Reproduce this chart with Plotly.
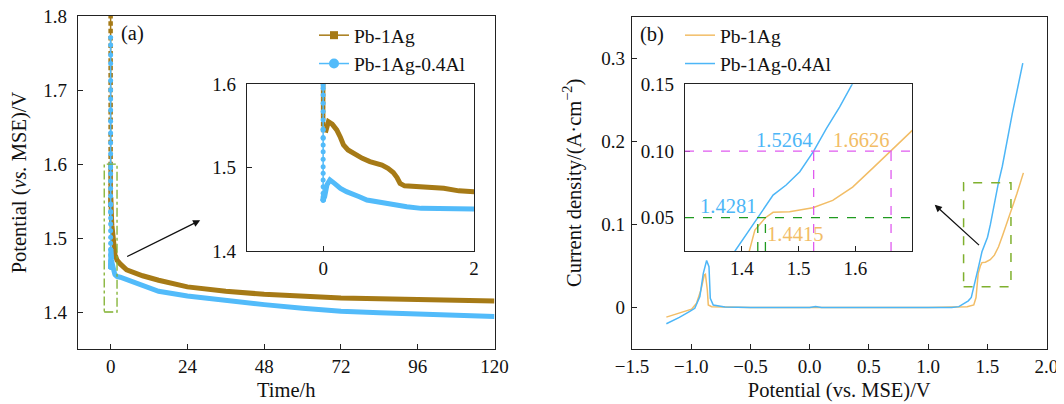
import plotly.graph_objects as go

# ---------------- data: panel (a) chronopotentiometry ----------------
# initial (t = 0) spike
spike_t_ag = [0.0] * 32
spike_v_ag = [1.85, 1.80, 1.79, 1.78, 1.77, 1.76, 1.75, 1.74, 1.73, 1.72, 1.71, 1.70,
              1.69, 1.68, 1.67, 1.66, 1.65, 1.64, 1.63, 1.62, 1.61, 1.60, 1.595, 1.59,
              1.585, 1.58, 1.575, 1.57, 1.565, 1.56, 1.552, 1.545]
spike_t_al = [0.0] * 37
spike_v_al = [1.771, 1.761, 1.7475, 1.736, 1.713, 1.700, 1.688, 1.673, 1.658, 1.642,
              1.629, 1.614, 1.599, 1.595, 1.587, 1.577, 1.567, 1.557, 1.546, 1.545,
              1.536, 1.535, 1.527, 1.519, 1.510, 1.501, 1.493, 1.485, 1.477, 1.469,
              1.465, 1.463, 1.461, 1.461, 1.461, 1.461, 1.461]

# decay after the spike
time_ag = [0.03, 0.07, 0.12, 0.18, 0.23, 0.27, 0.33, 0.40, 0.45, 0.52, 0.62, 0.70, 0.78,
           0.86, 0.93, 0.98, 1.02, 1.08, 1.24, 1.4, 1.6, 1.8, 2.0,
           3, 5, 10, 15, 24, 36, 48, 60, 72, 84, 96, 108, 120]
pot_ag = [1.542, 1.555, 1.552, 1.545, 1.536, 1.527, 1.521, 1.517, 1.515, 1.511, 1.507, 1.505, 1.503,
          1.499, 1.494, 1.488, 1.481, 1.478, 1.477, 1.476, 1.475, 1.472, 1.470,
          1.465, 1.457, 1.449, 1.443, 1.434, 1.428, 1.424, 1.421, 1.419, 1.418, 1.417, 1.416, 1.415]
time_al = [0.0, 0.02, 0.05, 0.09, 0.15, 0.23, 0.31, 0.40, 0.48, 0.58, 0.70, 0.85, 1.0, 1.11,
           1.3, 1.47, 1.7, 2.0,
           3, 5, 10, 15, 24, 36, 48, 60, 72, 84, 96, 108, 120]
pot_al = [1.461, 1.465, 1.479, 1.485, 1.481, 1.475, 1.471, 1.467, 1.465, 1.461, 1.459, 1.456,
          1.454, 1.453, 1.451, 1.450, 1.449, 1.448,
          1.447, 1.444, 1.436, 1.428, 1.4216, 1.415, 1.410, 1.405, 1.401, 1.399, 1.397, 1.395, 1.394]

# ---------------- data: panel (b) polarisation curves ----------------
e_ag = [-1.21, -1.10, -0.997, -0.955, -0.918, -0.89, -0.88, -0.864, -0.856, -0.828, -0.70,
        -0.5, 0.0, 0.5, 1.0, 1.33, 1.386, 1.405, 1.413, 1.423, 1.4415, 1.455, 1.484,
        1.525, 1.56, 1.595, 1.63, 1.6626, 1.70, 1.75, 1.805]
j_ag = [-0.0116, -0.007, -0.002, 0.005, 0.021, 0.039, 0.040, 0.021, 0.003, 0.001, 0.0003,
        0.0, 0.0, 0.0, 0.0, 0.001, 0.003, 0.012, 0.025, 0.0407, 0.05, 0.054, 0.0545,
        0.0575, 0.063, 0.073, 0.087, 0.10, 0.1155, 0.137, 0.162]
e_al = [-1.21, -1.10, -1.012, -0.97, -0.927, -0.898, -0.87, -0.85, -0.839, -0.814, -0.715,
        -0.5, 0.0, 0.05, 0.1, 0.5, 1.0, 1.2, 1.26, 1.30, 1.34, 1.365, 1.388, 1.4281, 1.455,
        1.478, 1.502, 1.5264, 1.549, 1.572, 1.594, 1.627, 1.712, 1.80]
j_al = [-0.0196, -0.012, -0.0048, -0.001, 0.013, 0.041, 0.0566, 0.049, 0.011, 0.003, 0.0005,
        0.0, 0.0, 0.001, 0.0, 0.0, 0.0, 0.0, 0.001, 0.004, 0.008, 0.012, 0.025, 0.05, 0.067,
        0.0745, 0.0845, 0.10, 0.117, 0.133, 0.15, 0.17, 0.234, 0.294]

# marked potentials at 0.05 and 0.10 A/cm2
j_marks = [0.05, 0.10]
e_marks_ag = [1.4415, 1.6626]
e_marks_al = [1.4281, 1.5264]

names = ["Pb-1Ag", "Pb-1Ag-0.4Al"]

# ---------------- styles ----------------
BROWN = "#A67A16"
BLUE_A = "#52BBFA"
ORANGE = "#F2BD66"
BLUE_B = "#4DB6F7"
GREEN_BOX = "#7FB02E"
MAGENTA = "#E05BEF"
GREEN_D = "#1F9A1F"
FONT = "Liberation Serif"
FS = 19     # tick labels
FT = 20.5   # other text
FL = 19.5   # legend text
OFF = 8     # page body margin
W, H = 1064 - OFF, 404 - OFF


def px_x(p):
    return (p - OFF) / W


def px_y(p):
    return 1 - (p - OFF) / H


fig = go.Figure()

# panel (a) main + inset
for xa, ya in (("x", "y"), ("x2", "y2")):
    fig.add_trace(go.Scatter(x=time_ag, y=pot_ag, mode="lines", line=dict(color=BROWN, width=5),
                             xaxis=xa, yaxis=ya, showlegend=False, hoverinfo="skip"))
    fig.add_trace(go.Scatter(x=spike_t_ag, y=spike_v_ag, mode="lines+markers",
                             line=dict(color=BROWN, width=1.5),
                             marker=dict(symbol="square", size=4.5, color=BROWN),
                             xaxis=xa, yaxis=ya, showlegend=False, hoverinfo="skip"))
    fig.add_trace(go.Scatter(x=time_al, y=pot_al, mode="lines", line=dict(color=BLUE_A, width=5),
                             xaxis=xa, yaxis=ya, showlegend=False, hoverinfo="skip"))
    fig.add_trace(go.Scatter(x=spike_t_al, y=spike_v_al, mode="lines+markers",
                             line=dict(color=BLUE_A, width=1.5),
                             marker=dict(symbol="circle", size=5, color=BLUE_A),
                             xaxis=xa, yaxis=ya, showlegend=False, hoverinfo="skip"))

# legend entries (a)
fig.add_trace(go.Scatter(x=[None], y=[None], mode="lines+markers", name=names[0],
                         line=dict(color=BROWN, width=1.5),
                         marker=dict(symbol="square", size=8, color=BROWN),
                         xaxis="x", yaxis="y", legend="legend"))
fig.add_trace(go.Scatter(x=[None], y=[None], mode="lines+markers", name=names[1],
                         line=dict(color=BLUE_A, width=1.5),
                         marker=dict(symbol="circle", size=10, color=BLUE_A),
                         xaxis="x", yaxis="y", legend="legend"))

# panel (b) main + inset
for i, (xa, ya) in enumerate((("x3", "y3"), ("x4", "y4"))):
    fig.add_trace(go.Scatter(x=e_ag, y=j_ag, mode="lines", name=names[0],
                             line=dict(color=ORANGE, width=1.5),
                             xaxis=xa, yaxis=ya, showlegend=(i == 0), legend="legend2"))
    fig.add_trace(go.Scatter(x=e_al, y=j_al, mode="lines", name=names[1],
                             line=dict(color=BLUE_B, width=1.5),
                             xaxis=xa, yaxis=ya, showlegend=(i == 0), legend="legend2"))

axis_common = dict(showline=True, linecolor="#222", linewidth=1.3, mirror=True,
                   ticks="inside", ticklen=5, tickwidth=1.2, tickcolor="#222",
                   showgrid=False, zeroline=False, automargin=False,
                   ticklabeloverflow="allow",
                   tickfont=dict(family=FONT, size=FS, color="#111"))

fig.update_layout(
    width=W, height=H, margin=dict(l=0, r=0, t=0, b=0),
    paper_bgcolor="white", plot_bgcolor="white",
    font=dict(family=FONT, size=FT, color="#111"),
    xaxis=dict(axis_common, domain=[px_x(78), px_x(494.5)], range=[-10.2, 120],
               tickvals=[0, 24, 48, 72, 96, 120], anchor="y",
               title=dict(text="Time/h", standoff=6, font=dict(family=FONT, size=FT))),
    yaxis=dict(axis_common, domain=[px_y(349), px_y(16)], range=[1.35, 1.8002],
               tickvals=[1.4, 1.5, 1.6, 1.7, 1.8], ticktext=["1.4", "1.5", "1.6", "1.7", "1.8"],
               anchor="x", ticklabelstandoff=6,
               title=dict(text="Potential (<i>vs.</i> MSE)/V", standoff=12,
                          font=dict(family=FONT, size=FT))),
    xaxis2=dict(axis_common, domain=[px_x(247), px_x(474)], range=[-1.01, 2.001],
                tickvals=[0, 2], anchor="y2"),
    yaxis2=dict(axis_common, domain=[px_y(251), px_y(84)], range=[1.3999, 1.6001],
                tickvals=[1.4, 1.5, 1.6], ticktext=["1.4", "1.5", "1.6"], anchor="x2",
                ticklabelstandoff=6),
    xaxis3=dict(axis_common, domain=[px_x(632), px_x(1046.5)], range=[-1.5001, 2.0001],
                tickvals=[-1.5, -1.0, -0.5, 0.0, 0.5, 1.0, 1.5, 2.0],
                ticktext=["\u22121.5", "\u22121.0", "\u22120.5", "0.0", "0.5", "1.0", "1.5", "2.0"],
                anchor="y3",
                title=dict(text="Potential (vs. MSE)/V", standoff=6, font=dict(family=FONT, size=FT))),
    yaxis3=dict(axis_common, domain=[px_y(349), px_y(16.7)], range=[-0.05, 0.35],
                tickvals=[0, 0.1, 0.2, 0.3], ticktext=["0", "0.1", "0.2", "0.3"], anchor="x3",
                ticklabelstandoff=2,
                title=dict(text="Current density/(A\u00b7cm<sup>\u22122</sup>)", standoff=14,
                           font=dict(family=FONT, size=FT))),
    xaxis4=dict(axis_common, domain=[px_x(685), px_x(912.3)], range=[1.3, 1.7],
                tickvals=[1.4, 1.5, 1.6], ticktext=["1.4", "1.5", "1.6"], anchor="y4"),
    yaxis4=dict(axis_common, domain=[px_y(251), px_y(84.3)], range=[0.025, 0.1501],
                tickvals=[0.05, 0.10, 0.15], ticktext=["0.05", "0.10", "0.15"], anchor="x4",
                ticklabelstandoff=6),
    legend=dict(x=px_x(314), y=px_y(16), xanchor="left", yanchor="top",
                bgcolor="rgba(0,0,0,0)", font=dict(family=FONT, size=FL), tracegroupgap=0,
                itemwidth=30),
    legend2=dict(x=px_x(680), y=px_y(16), xanchor="left", yanchor="top",
                 bgcolor="rgba(0,0,0,0)", font=dict(family=FONT, size=FL), tracegroupgap=0,
                 itemwidth=30),
)

shapes = [
    dict(type="rect", xref="x", yref="y", x0=-2, x1=2, y0=1.4, y1=1.6,
         line=dict(color=GREEN_BOX, width=1.3, dash="dashdot")),
    dict(type="rect", xref="x3", yref="y3", x0=1.3, x1=1.7, y0=0.025, y1=0.15,
         line=dict(color=GREEN_BOX, width=1.5, dash="dash")),
]
line_cols = [GREEN_D, MAGENTA]
for k, jm in enumerate(j_marks):
    shapes.append(dict(type="line", xref="x4", yref="y4", x0=1.3, x1=1.7, y0=jm, y1=jm,
                       line=dict(color=line_cols[k], width=1.3, dash="dash")))
    for em in (e_marks_al[k], e_marks_ag[k]):
        shapes.append(dict(type="line", xref="x4", yref="y4", x0=em, x1=em, y0=0.025, y1=jm,
                           line=dict(color=line_cols[k], width=1.3, dash="dash")))
fig.update_layout(shapes=shapes)

ann = [
    dict(text="(a)", xref="paper", yref="paper", x=px_x(119), y=px_y(34), xanchor="left",
         yanchor="middle", showarrow=False, font=dict(family=FONT, size=FT)),
    dict(text="(b)", xref="paper", yref="paper", x=px_x(638), y=px_y(35), xanchor="left",
         yanchor="middle", showarrow=False, font=dict(family=FONT, size=FT)),
    # arrows
    dict(text="", xref="x", yref="y", axref="x", ayref="y", x=28, y=1.524, ax=4.7, ay=1.474,
         showarrow=True, arrowhead=2, arrowsize=1.1, arrowwidth=1.3, arrowcolor="#111"),
    dict(text="", xref="x3", yref="y3", axref="x3", ayref="y3", x=1.056, y=0.1236,
         ax=1.443, ay=0.0734,
         showarrow=True, arrowhead=2, arrowsize=1.1, arrowwidth=1.3, arrowcolor="#111"),
    # value labels
    dict(text=f"{e_marks_al[1]:.4f}", xref="x4", yref="y4", x=e_marks_al[1], y=0.108,
         xanchor="right", yanchor="middle", showarrow=False, font=dict(color=BLUE_B, size=FT)),
    dict(text=f"{e_marks_ag[1]:.4f}", xref="x4", yref="y4", x=e_marks_ag[1], y=0.108,
         xanchor="right", yanchor="middle", showarrow=False, font=dict(color=ORANGE, size=FT)),
    dict(text=f"{e_marks_al[0]:.4f}", xref="x4", yref="y4", x=e_marks_al[0], y=0.059,
         xanchor="right", yanchor="middle", showarrow=False, font=dict(color=BLUE_B, size=FT)),
    dict(text=f"{e_marks_ag[0]:.4f}", xref="x4", yref="y4", x=e_marks_ag[0], y=0.038,
         xanchor="left", yanchor="middle", showarrow=False, font=dict(color=ORANGE, size=FT)),
]
fig.update_layout(annotations=ann)

fig.write_html("out.html")
